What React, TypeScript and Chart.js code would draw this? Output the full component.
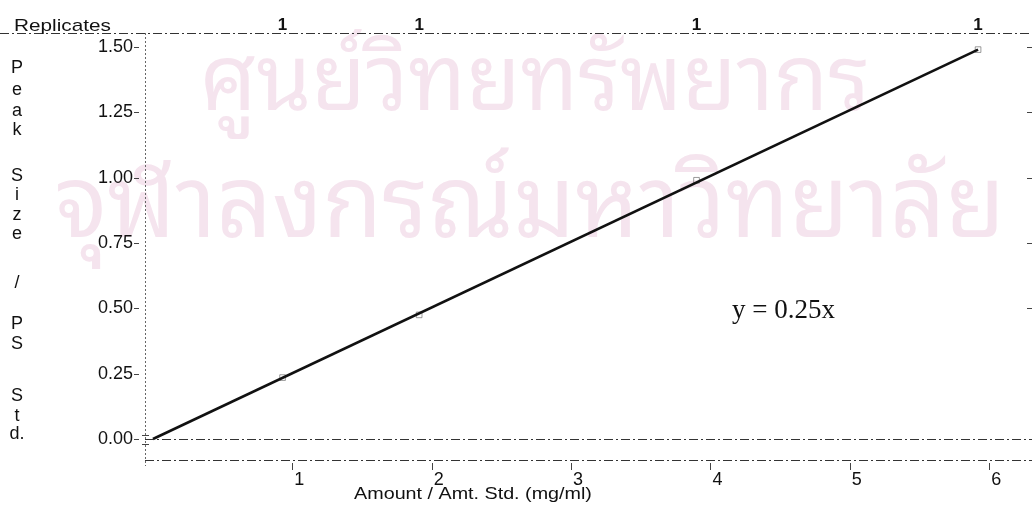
import React, { useEffect, useRef } from "react";
import { Chart, registerables } from "chart.js";

Chart.register(...registerables);

// ---- data ----
const fitX = [0, 5.92];
const fitY = [0, 1.49];
const calX = [0.93, 1.91, 3.9, 5.92];
const calY = [0.235, 0.475, 0.99, 1.49];
const replicates = ["1", "1", "1", "1"];
const xTicks = [1, 2, 3, 4, 5, 6];
const yTicks = [0, 0.25, 0.5, 0.75, 1.0, 1.25, 1.5];
const yTitleLetters = ["P", "e", "a", "k", "S", "i", "z", "e", "/", "P", "S", "S", "t", "d."];
const xTitle = "Amount / Amt. Std. (mg/ml)";
const topTitle = "Replicates";
const equation = "y = 0.25x";
const watermark = ["ศูนย์วิทยทรัพยากร", "จุฬาลงกรณ์มหาวิทยาลัย"];

// ---- layout (pixels) ----
const W = 1032;
const H = 506;
const letterY = [68, 90, 111, 130, 176, 195, 215, 234, 283, 324, 344, 396, 416, 434];
const FONT = "'Liberation Sans', Arial, Helvetica, sans-serif";
const THAI = "'Noto Sans Thai Looped', 'Noto Serif Thai', 'Noto Sans Thai', 'Noto Sans', sans-serif";

function stretchedText(ctx: any, text: string, x: number, y: number, sx: number) {
  ctx.save();
  ctx.translate(x, y);
  ctx.scale(sx, 1);
  ctx.fillText(text, 0, 0);
  ctx.restore();
}

const decorPlugin = {
  id: "decor",
  beforeDraw(chart: any) {
    const ctx = chart.ctx;
    ctx.save();
    ctx.fillStyle = "#ffffff";
    ctx.fillRect(0, 0, W, H);
    // faint watermark
    ctx.fillStyle = "#f5e4ee";
    ctx.textBaseline = "alphabetic";
    ctx.textAlign = "left";
    ctx.font = `normal 92px ${THAI}`;
    ctx.fillText(watermark[0], 200, 110, 670);
    ctx.font = `normal 100px ${THAI}`;
    ctx.fillText(watermark[1], 55, 237, 950);
    ctx.restore();
  },
  afterDraw(chart: any) {
    const ctx = chart.ctx;
    const a = chart.chartArea;
    const xs = chart.scales.x;
    const ys = chart.scales.y;
    ctx.save();
    ctx.strokeStyle = "#333";
    ctx.lineWidth = 1;
    // top border (dash-dot)
    ctx.setLineDash([9, 3, 2, 3]);
    ctx.beginPath();
    ctx.moveTo(0, a.top + 0.5);
    ctx.lineTo(W, a.top + 0.5);
    ctx.stroke();
    // bottom axis
    ctx.beginPath();
    ctx.moveTo(a.left, a.bottom + 0.5);
    ctx.lineTo(W, a.bottom + 0.5);
    ctx.stroke();
    // zero line
    const y0 = Math.round(ys.getPixelForValue(0)) + 0.5;
    ctx.beginPath();
    ctx.moveTo(a.left, y0);
    ctx.lineTo(W, y0);
    ctx.stroke();
    // left axis (dotted)
    ctx.strokeStyle = "#666";
    ctx.setLineDash([2, 2]);
    ctx.beginPath();
    ctx.moveTo(a.left + 0.5, a.top);
    ctx.lineTo(a.left + 0.5, a.bottom + 6);
    ctx.stroke();
    ctx.setLineDash([]);
    // y tick marks (left and right)
    ctx.strokeStyle = "#444";
    yTicks.forEach((v) => {
      const py = Math.round(ys.getPixelForValue(v)) + 0.5;
      ctx.beginPath();
      ctx.moveTo(a.left - 11, py);
      ctx.lineTo(a.left - 6, py);
      ctx.stroke();
      if (v > 0.4) {
        ctx.beginPath();
        ctx.moveTo(W - 5, py);
        ctx.lineTo(W, py);
        ctx.stroke();
      }
    });
    // x tick marks
    xTicks.forEach((v) => {
      const px = Math.round(xs.getPixelForValue(v)) + 0.5;
      ctx.beginPath();
      ctx.moveTo(px, a.bottom + 3);
      ctx.lineTo(px, a.bottom + 10);
      ctx.stroke();
    });
    // origin marks
    ctx.beginPath();
    ctx.moveTo(a.left - 3, y0 - 4);
    ctx.lineTo(a.left + 4, y0 - 4);
    ctx.moveTo(a.left - 3, y0 + 5);
    ctx.lineTo(a.left + 4, y0 + 5);
    ctx.stroke();

    // texts
    ctx.fillStyle = "#111";
    ctx.textBaseline = "middle";
    ctx.textAlign = "left";
    ctx.font = `17px ${FONT}`;
    stretchedText(ctx, topTitle, 14, 26, 1.22);
    ctx.textAlign = "center";
    ctx.font = `18px ${FONT}`;
    yTitleLetters.forEach((ch, i) => {
      ctx.fillText(ch, 17, letterY[i]);
    });
    ctx.font = `17px ${FONT}`;
    stretchedText(ctx, xTitle, 473, 494, 1.16);
    ctx.textAlign = "left";
    ctx.textBaseline = "alphabetic";
    ctx.font = "27px 'Liberation Serif', 'Times New Roman', serif";
    ctx.fillText(equation, 732, 318);
    ctx.restore();
  },
};

export default function App() {
  const ref = useRef<HTMLCanvasElement | null>(null);
  useEffect(() => {
    document.body.style.margin = "0";
    if (!ref.current) return;
    Chart.defaults.font.family = FONT;
    const chart = new Chart(ref.current, {
      type: "scatter",
      data: {
        datasets: [
          {
            label: "fit",
            data: fitX.map((x, i) => ({ x, y: fitY[i] })),
            showLine: true,
            borderColor: "#111",
            borderWidth: 2.6,
            pointRadius: 0,
            xAxisID: "x",
            yAxisID: "y",
          },
          {
            label: "standards",
            data: calX.map((x, i) => ({ x, y: calY[i] })),
            showLine: false,
            pointStyle: "rect",
            pointRadius: 4,
            borderColor: "rgba(90,90,90,0.6)",
            borderWidth: 1,
            backgroundColor: "rgba(0,0,0,0)",
            xAxisID: "x",
            yAxisID: "y",
          },
        ],
      },
      options: {
        responsive: false,
        animation: false,
        layout: { padding: { left: 0, right: 1, top: 0, bottom: 0 } },
        plugins: { legend: { display: false }, tooltip: { enabled: false } },
        scales: {
          x: {
            type: "linear",
            position: "bottom",
            min: -0.057,
            max: 6.271,
            grid: { display: false, drawTicks: false },
            border: { display: false },
            afterBuildTicks: (s: any) => {
              s.ticks = xTicks.map((v) => ({ value: v }));
            },
            afterFit: (s: any) => {
              s.height = 46;
            },
            ticks: {
              padding: 9,
              labelOffset: 7,
              color: "#111",
              font: { size: 18, family: FONT },
              callback: (v: any) => String(v),
            },
          },
          x2: {
            type: "linear",
            position: "top",
            min: -0.057,
            max: 6.271,
            grid: { display: false, drawTicks: false },
            border: { display: false },
            afterBuildTicks: (s: any) => {
              s.ticks = calX.map((v) => ({ value: v }));
            },
            afterFit: (s: any) => {
              s.height = 33;
            },
            ticks: {
              padding: -3,
              color: "#111",
              font: { size: 17, weight: "bold", family: FONT },
              callback: (_v: any, i: number) => replicates[i],
            },
          },
          y: {
            type: "linear",
            position: "left",
            min: -0.0804,
            max: 1.5536,
            grid: { display: false, drawTicks: false },
            border: { display: false },
            afterBuildTicks: (s: any) => {
              s.ticks = yTicks.map((v) => ({ value: v }));
            },
            afterFit: (s: any) => {
              s.width = 145;
            },
            ticks: {
              padding: 12,
              color: "#111",
              font: { size: 18, family: FONT },
              callback: (v: any) => Number(v).toFixed(2),
            },
          },
        },
      },
      plugins: [decorPlugin],
    } as any);
    return () => chart.destroy();
  }, []);
  return (
    <div style={{ width: W, height: H, position: "relative", background: "#fff" }}>
      <canvas ref={ref} width={W} height={H} style={{ width: W, height: H, display: "block" }} />
    </div>
  );
}
